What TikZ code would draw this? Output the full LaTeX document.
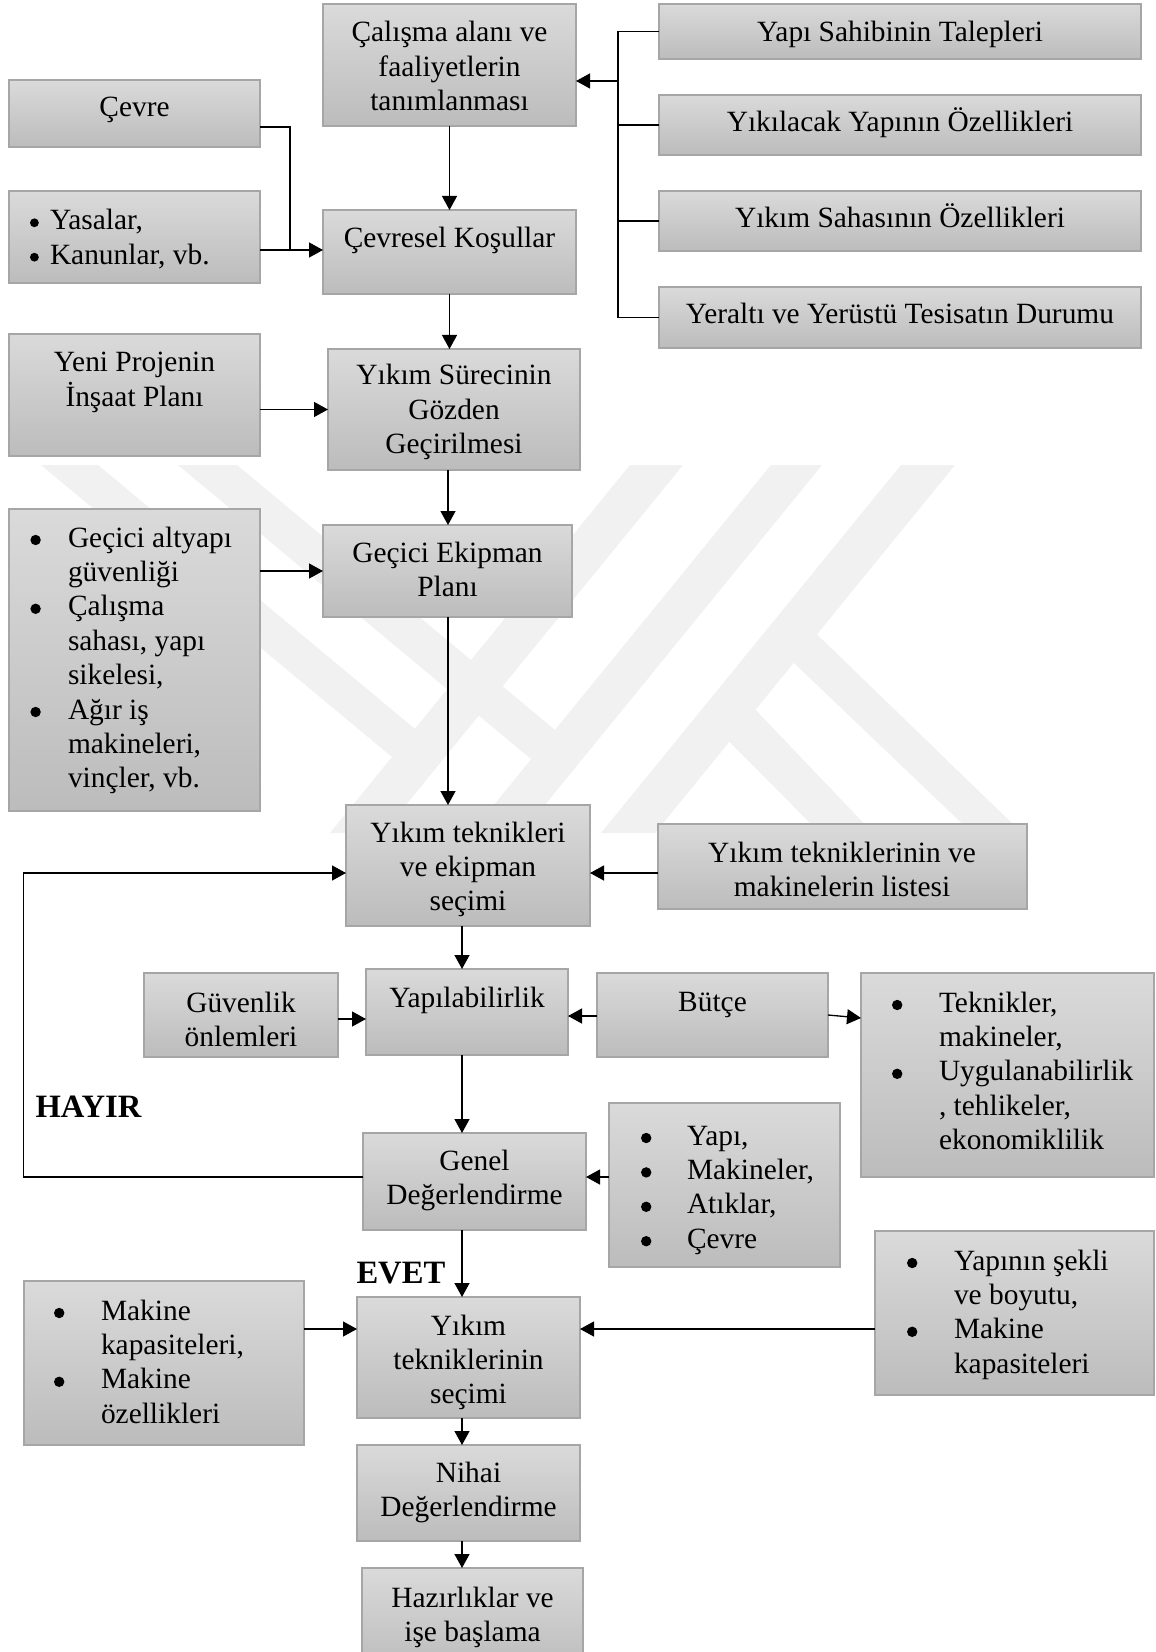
\documentclass[tikz,border=0pt]{standalone}
\usepackage{fontspec}
\setmainfont{Liberation Serif}
\usetikzlibrary{arrows.meta,calc}
\definecolor{boxtop}{HTML}{DADADA}
\definecolor{boxbot}{HTML}{BCBCBC}
\definecolor{boxline}{HTML}{A6A6A6}
\definecolor{wm}{HTML}{F1F1F1}
\tikzset{
  box/.style={draw=boxline, line width=0.7pt, top color=boxtop, bottom color=boxbot, inner sep=0pt, outer sep=0pt},
  txt/.style={inner sep=0pt, outer sep=0pt, font=\fontsize{14.7}{17.2}\selectfont},
  lbl/.style={inner sep=0pt, outer sep=0pt, font=\fontsize{16.3}{18}\selectfont\bfseries},
  conn/.style={line width=0.65pt, black},
  arr/.style={conn, -{Triangle[length=7pt,width=7.5pt]}},
}
\newcommand\mybox[5]{\node[box, minimum width={(#4-#2)*0.5pt}, minimum height={(#5-#3)*0.5pt}] (#1) at ({(#2+#4)/2},{(#3+#5)/2}) {};}
\newcommand\ctext[4]{\node[txt, anchor=base] (#1) at (#2,#3) {\begin{tabular}[t]{@{}c@{}}#4\end{tabular}};}
\newcommand\ltext[4]{\node[txt, anchor=base west] (#1) at (#2,#3) {\begin{tabular}[t]{@{}l@{}}#4\end{tabular}};}
\newcommand\bul[1]{\leavevmode\llap{\tikz[baseline=0pt]\fill[black] (0pt,3.5pt) circle[radius=2.6pt];\hspace{#1}}}
\newcommand\sbul[1]{\leavevmode\llap{\tikz[baseline=0pt]\fill[black] (0pt,3.6pt) circle[radius=2.2pt];\hspace{#1}}}
\begin{document}
\begin{tikzpicture}[x=0.5pt,y=-0.5pt]
\useasboundingbox (0,0) rectangle (1155,1652);
\fill[white] (0,0) rectangle (1155,1652);
% watermark
\fill[wm] (630,465) -- (683,465) -- (383,833) -- (330,833) -- cycle;
\fill[wm] (771,465) -- (822,465) -- (522,833) -- (471,833) -- cycle;
\fill[wm] (901,465) -- (955,465) -- (655,833) -- (601,833) -- cycle;
\fill[wm] (41,465) -- (98,465) -- (415,729) -- (392,757) -- cycle;
\fill[wm] (178,465) -- (237,465) -- (555,730) -- (531,759) -- cycle;
\fill[wm] (700,712) -- (729,682) -- (873,833) -- (820,833) -- cycle;
\fill[wm] (772,642) -- (799,617) -- (1022,833) -- (972,833) -- cycle;
% boxes
\mybox{calisma}{323}{4}{576}{126}
\mybox{cevre}{9}{80}{260}{147}
\mybox{yasalar}{9}{191}{260}{283}
\mybox{cevresel}{323}{210}{576}{294}
\mybox{talep}{659}{4}{1141}{59}
\mybox{ozellik}{659}{95}{1141}{155}
\mybox{saha}{659}{191}{1141}{251}
\mybox{tesisat}{659}{287}{1141}{348}
\mybox{yeni}{9}{334}{260}{456}
\mybox{surec}{328}{349}{580}{470}
\mybox{ekipman}{323}{525}{572}{617}
\mybox{altyapi}{9}{509}{260}{811}
\mybox{teknik}{346}{805}{590}{926}
\mybox{liste}{658}{824}{1027}{909}
\mybox{guvenlik}{144}{973}{338}{1057}
\mybox{yapil}{366}{969}{568}{1055}
\mybox{butce}{597}{973}{828}{1057}
\mybox{tekmak}{861}{973}{1154}{1177}
\mybox{genel}{363}{1133}{586}{1230}
\mybox{yapimak}{609}{1103}{840}{1267}
\mybox{secim}{357}{1297}{580}{1418}
\mybox{makine}{24}{1281}{304}{1445}
\mybox{sekil}{875}{1231}{1154}{1395}
\mybox{nihai}{357}{1445}{580}{1541}
\mybox{hazir}{362}{1568}{583}{1670}
% texts
\ctext{calisma-t}{449.5}{42}{Çalışma alanı ve\\faaliyetlerin\\tanımlanması}
\ctext{cevre-t}{134.5}{117}{Çevre}
\ltext{yasalar-t}{50}{230}{\sbul{5.6pt}Yasalar,\\\sbul{5.6pt}Kanunlar, vb.}
\ctext{cevresel-t}{449.5}{248}{Çevresel Koşullar}
\ctext{talep-t}{900}{42}{Yapı Sahibinin Talepleri}
\ctext{ozellik-t}{900}{132}{Yıkılacak Yapının Özellikleri}
\ctext{saha-t}{900}{228}{Yıkım Sahasının Özellikleri}
\ctext{tesisat-t}{900}{324}{Yeraltı ve Yerüstü Tesisatın Durumu}
\ctext{yeni-t}{134.5}{372}{Yeni Projenin\\İnşaat Planı}
\ctext{surec-t}{454}{385}{Yıkım Sürecinin\\Gözden\\Geçirilmesi}
\ctext{ekipman-t}{447.5}{562}{Geçici Ekipman\\Planı}
\ltext{altyapi-t}{68}{547}{\bul{13.6pt}Geçici altyapı\\güvenliği\\\bul{13.6pt}Çalışma\\sahası, yapı\\sikelesi,\\\bul{13.6pt}Ağır iş\\makineleri,\\vinçler, vb.}
\ctext{teknik-t}{468}{842}{Yıkım teknikleri\\ve ekipman\\seçimi}
\ctext{liste-t}{842}{862}{Yıkım tekniklerinin ve\\makinelerin listesi}
\ctext{guvenlik-t}{241}{1012}{Güvenlik\\önlemleri}
\ctext{yapil-t}{467}{1007}{Yapılabilirlik}
\ctext{butce-t}{712.5}{1011}{Bütçe}
\ltext{tekmak-t}{939}{1012}{\bul{18.3pt}Teknikler,\\makineler,\\\bul{18.3pt}Uygulanabilirlik\\, tehlikeler,\\ekonomiklilik}
\ctext{genel-t}{474.5}{1170}{Genel\\Değerlendirme}
\ltext{yapimak-t}{687}{1145}{\bul{17.8pt}Yapı,\\\bul{17.8pt}Makineler,\\\bul{17.8pt}Atıklar,\\\bul{17.8pt}Çevre}
\ctext{secim-t}{468.5}{1335}{Yıkım\\tekniklerinin\\seçimi}
\ltext{makine-t}{101}{1320}{\bul{18.3pt}Makine\\kapasiteleri,\\\bul{18.3pt}Makine\\özellikleri}
\ltext{sekil-t}{954}{1270}{\bul{18.3pt}Yapının şekli\\ve boyutu,\\\bul{18.3pt}Makine\\kapasiteleri}
\ctext{nihai-t}{468.5}{1482}{Nihai\\Değerlendirme}
\ctext{hazir-t}{472.5}{1607}{Hazırlıklar ve\\işe başlama}
\node[lbl, anchor=base west] (hayir) at (35.6,1117) {HAYIR};
\node[lbl, anchor=base west] (evet) at (356.5,1283) {EVET};
% connectors
\coordinate (tk) at (618,0);
\coordinate (trunk) at (618,81);
\draw[conn] (talep.west) -- (talep.west -| tk) -- (tesisat.west -| tk) -- (tesisat.west);
\draw[conn] (ozellik.west) -- (ozellik.west -| tk);
\draw[conn] (saha.west) -- (saha.west -| tk);
\draw[arr] (trunk) -- (trunk -| calisma.east);
\coordinate (c1) at (290,127);
\coordinate (c2) at (290,250);
\draw[conn] (cevre.east |- c1) -- (c1) -- (c2);
\draw[arr] (yasalar.east |- c2) -- (cevresel.west |- c2);
\draw[arr] (calisma.south) -- (cevresel.north);
\draw[arr] (cevresel.south) -- (cevresel.south |- surec.north);
\draw[arr] (surec.west -| yeni.east) -- (surec.west);
\coordinate (v1) at (448,0);
\draw[arr] (surec.south -| v1) -- (ekipman.north -| v1);
\draw[arr] (ekipman.west -| altyapi.east) -- (ekipman.west);
\draw[arr] (ekipman.south -| v1) -- (teknik.north -| v1);
\coordinate (lp) at (23.7,873);
\coordinate (lq) at (23.7,1177);
\draw[arr] (genel.west |- lq) -- (lq) -- (lp) -- (lp -| teknik.west);
\draw[arr] (liste.west |- lp) -- (teknik.east |- lp);
\coordinate (v2) at (462,0);
\draw[arr] (teknik.south -| v2) -- (yapil.north -| v2);
\coordinate (g) at (0,1019);
\draw[arr] (guvenlik.east |- g) -- (yapil.west |- g);
\coordinate (b) at (0,1016);
\draw[arr] (butce.west |- b) -- (yapil.east |- b);
\coordinate (b1) at (0,1015);
\coordinate (b2) at (0,1018);
\draw[arr] (butce.east |- b1) -- (tekmak.west |- b2);
\draw[arr] (yapil.south -| v2) -- (genel.north -| v2);
\draw[arr] (yapimak.west |- lq) -- (genel.east |- lq);
\draw[arr] (genel.south -| v2) -- (secim.north -| v2);
\coordinate (m) at (0,1329);
\draw[arr] (makine.east |- m) -- (secim.west |- m);
\draw[arr] (sekil.west |- m) -- (secim.east |- m);
\draw[arr] (secim.south -| v2) -- (nihai.north -| v2);
\draw[arr] (nihai.south -| v2) -- (hazir.north -| v2);
\end{tikzpicture}
\end{document}
